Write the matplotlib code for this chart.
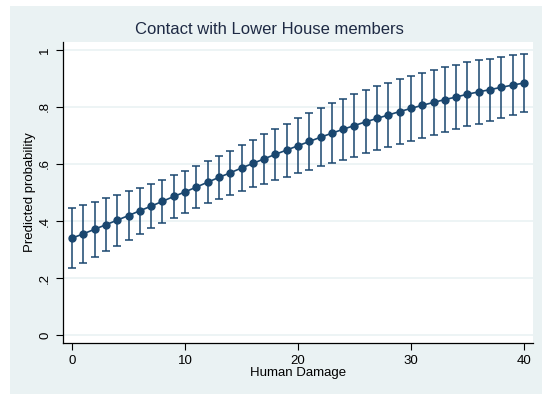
import matplotlib
matplotlib.use("Agg")
import matplotlib.pyplot as plt
from matplotlib.patches import Rectangle

plt.rcParams['font.family'] = ['Liberation Sans', 'DejaVu Sans']

# Predicted probability by human damage
damage = list(range(0, 41))
pred = [0.340, 0.355, 0.371, 0.387, 0.403, 0.419, 0.436, 0.452, 0.469, 0.486,
        0.502, 0.519, 0.536, 0.553, 0.569, 0.586, 0.602, 0.618, 0.634, 0.649,
        0.664, 0.679, 0.694, 0.708, 0.722, 0.735, 0.748, 0.760, 0.772, 0.784,
        0.795, 0.806, 0.816, 0.826, 0.835, 0.845, 0.853, 0.861, 0.869, 0.877,
        0.884]
ci_lo = [0.235, 0.254, 0.274, 0.294, 0.314, 0.334, 0.355, 0.374, 0.393, 0.411,
         0.428, 0.445, 0.462, 0.478, 0.492, 0.506, 0.519, 0.531, 0.544, 0.556,
         0.568, 0.580, 0.592, 0.603, 0.615, 0.626, 0.637, 0.648, 0.659, 0.670,
         0.681, 0.692, 0.702, 0.712, 0.722, 0.733, 0.742, 0.752, 0.762, 0.772,
         0.782]
ci_hi = [0.445, 0.456, 0.468, 0.480, 0.492, 0.504, 0.517, 0.530, 0.545, 0.561,
         0.576, 0.593, 0.610, 0.628, 0.646, 0.666, 0.685, 0.705, 0.724, 0.742,
         0.760, 0.778, 0.796, 0.813, 0.829, 0.844, 0.859, 0.872, 0.885, 0.898,
         0.909, 0.920, 0.930, 0.940, 0.948, 0.957, 0.964, 0.970, 0.976, 0.982,
         0.986]

xticks = [0, 10, 20, 30, 40]
yticks = [0, 0.2, 0.4, 0.6, 0.8, 1.0]
ytick_labels = ['0', '.2', '.4', '.6', '.8', '1']

navy = '#1a476f'
bg = '#eaf2f3'

fig = plt.figure(figsize=(5.42, 3.94), dpi=100, facecolor='white')
fig.patches.append(Rectangle((10 / 542, 0), 1, 388 / 394, transform=fig.transFigure,
                             facecolor=bg, edgecolor='none', zorder=-1))

ax = fig.add_axes([63 / 542, 51 / 394, 470 / 542, 301 / 394])
ax.set_facecolor('white')

yerr = [[p - lo for p, lo in zip(pred, ci_lo)], [hi - p for p, hi in zip(pred, ci_hi)]]
ax.errorbar(damage, pred, yerr=yerr, fmt='none', ecolor=navy, elinewidth=1.1,
            capsize=3.2, capthick=1.1, zorder=2)
ax.plot(damage, pred, color=navy, lw=1.2, marker='o', markersize=5,
        markerfacecolor=navy, markeredgecolor=navy, zorder=3)

ax.set_xlim(-0.8, 40.8)
ax.set_ylim(-0.028, 1.028)
ax.set_xticks(xticks)
ax.set_yticks(yticks)
ax.set_yticklabels(ytick_labels, rotation=90, va='center')
ax.tick_params(axis='both', labelsize=9.5, length=5, width=0.8, color='black')
ax.grid(axis='y', color=bg, lw=1.2)
ax.set_axisbelow(True)

for side in ['top', 'right']:
    ax.spines[side].set_visible(False)
for side in ['left', 'bottom']:
    ax.spines[side].set_linewidth(0.9)

ax.set_xlabel('Human Damage', fontsize=9.5, labelpad=0)
ax.set_ylabel('Predicted probability', fontsize=9.5, labelpad=2)
fig.text(269 / 542, 1 - 30 / 394, 'Contact with Lower House members', fontsize=12,
         color='#1e2a44', ha='center', va='center')

fig.savefig('out.png', dpi=100, facecolor=fig.get_facecolor())
